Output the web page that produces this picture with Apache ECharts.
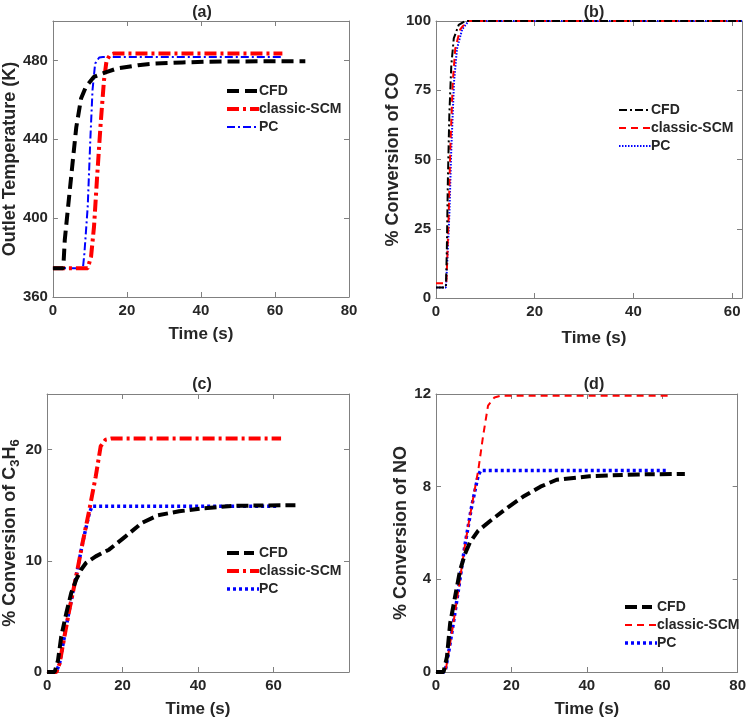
<!DOCTYPE html>
<html>
<head>
    <meta charset="UTF-8">
    <title>Outlet temperature and conversions</title>
    <script src="https://cdn.jsdelivr.net/npm/echarts@6/dist/echarts.min.js"></script>
</head>
<body style="margin:0">
    <div id="main" style="width: 749px; height: 721px;"></div>
    <script>
        // ---- data ----
        // (a) outlet temperature (K)
        var aCfdT = [0, 2.8, 3.2, 4.1, 5.2, 6.3, 7.6, 8.9, 11.1, 14.6, 17.3, 23, 27.6, 35, 40.8, 50, 68.2];
        var aCfdY = [374.6, 374.6, 388.9, 405.8, 426, 446, 460.7, 466.6, 471.7, 474.2, 475.9, 477.6, 478.4, 479, 479.3, 479.5, 479.6];
        var aScmT = [0, 9.4, 10.3, 11.1, 12.0, 12.9, 13.8, 14.5, 15.5, 16.5, 62];
        var aScmY = [374.6, 374.6, 380.4, 395.6, 422.7, 448, 470, 480, 483, 483.5, 483.5];
        var aPcT = [0, 8.1, 8.5, 9.4, 10.1, 10.7, 11.4, 12.5, 13.5, 62];
        var aPcY = [374.6, 374.6, 382, 405.8, 439.6, 465, 478.4, 481.5, 481.7, 481.7];

        // (b) % conversion of CO
        var bCfdT = [0, 2.0, 2.1, 2.2, 2.4, 2.7, 3.1, 3.6, 4.6, 5.9, 62];
        var bCfdY = [3.8, 3.8, 10, 17.9, 42, 66, 84, 93.7, 98.6, 100, 100];
        var bScmT = [0, 2.1, 2.3, 2.57, 2.9, 3.4, 3.9, 4.9, 6.3, 62];
        var bScmY = [5.3, 5.3, 15, 30, 54, 78, 90, 97, 100, 100];
        var bPcT = [0, 2.0, 2.2, 2.7, 3.1, 3.65, 4.25, 5.3, 6.6, 62];
        var bPcY = [3.8, 3.8, 10, 30, 54, 78, 90, 97, 100, 100];

        // (c) % conversion of C3H6
        var cCfdT = [0, 2.0, 2.9, 3.75, 5.1, 6.4, 7.7, 9.0, 10.3, 12.9, 16.4, 20.8, 25.1, 29.4, 35, 40.8, 49.5, 66];
        var cCfdY = [0, 0, 1.05, 3.2, 5.3, 7.1, 8.3, 9.2, 9.8, 10.4, 11.0, 12.2, 13.4, 14.1, 14.45, 14.7, 14.95, 15.0];
        var cScmT = [0, 2.5, 3.3, 4.6, 5.9, 7.7, 9.4, 11.2, 12.9, 14.2, 15.5, 17, 62];
        var cScmY = [0, 0, 0.75, 3.2, 5.6, 8.6, 11.6, 14.6, 17.6, 20.3, 20.9, 21.0, 21.0];
        var cPcT = [0, 2.4, 3.3, 4.6, 5.9, 7.7, 9.4, 11.2, 11.9, 12.3, 61];
        var cPcY = [0, 0, 0.75, 3.2, 5.6, 8.6, 11.6, 14.3, 14.9, 14.9, 14.9];

        // (d) % conversion of NO
        var dCfdT = [0, 2.0, 2.9, 3.75, 5.05, 6.4, 7.7, 9.0, 11.2, 14.6, 19.0, 23.4, 27.7, 32, 40.7, 53.8, 66];
        var dCfdY = [0, 0, 0.65, 2.1, 3.24, 4.4, 5.1, 5.6, 6.1, 6.55, 7.1, 7.6, 8.0, 8.3, 8.45, 8.53, 8.55];
        var dScmT = [0, 2.5, 3.3, 4.6, 5.9, 7.7, 9.4, 11.2, 12.5, 13.8, 15.5, 17, 62];
        var dScmY = [0, 0, 0.8, 2.1, 3.5, 5.5, 7.1, 8.7, 10.2, 11.5, 11.85, 11.92, 11.92];
        var dPcT = [0, 2.4, 3.3, 4.6, 5.9, 7.7, 9.4, 11.2, 11.9, 12.4, 61];
        var dPcY = [0, 0, 0.8, 2.1, 3.5, 5.5, 7.1, 8.5, 8.7, 8.7, 8.7];

        var seriesNames = ['CFD', 'classic-SCM', 'PC'];
        var panelTitles = ['(a)', '(b)', '(c)', '(d)'];

        var myChart = echarts.init(document.getElementById('main'));

        var font = '"Liberation Sans", Arial, sans-serif';
        var boxColor = '#808080';
        var textColor = '#262626';

        function pairs(xs, ys) {
            return xs.map(function (x, i) { return [x, ys[i]]; });
        }

        // 网格位置
        var grids = [
            { left: 45, top: 21, width: 304, height: 276 },
            { left: 436, top: 21, width: 306, height: 277 },
            { left: 44, top: 394, width: 305, height: 278 },
            { left: 436, top: 394, width: 306, height: 278 }
        ];

        var xRanges = [[0, 80, true], [0, 62, false], [0, 80, false], [0, 80, true]];
        var yRanges = [[360, 500, 40, false], [0, 100, 25, true], [0, 25, 10, false], [0, 12, 4, true]];
        var yNames = ['Outlet Temperature (K)', '% Conversion of CO', '% Conversion of C{sub|3}H{sub|6}', '% Conversion of NO'];
        var yGaps = [26, 27, 24, 24];

        var xAxis = [], yAxis = [];
        grids.forEach(function (g, i) {
            xAxis.push({
                type: 'value', gridIndex: i, min: xRanges[i][0], max: xRanges[i][1], interval: 20,
                name: i === 1 ? '' : 'Time (s)', nameLocation: 'middle', nameGap: 29,
                nameTextStyle: { fontFamily: font, fontWeight: 'bold', fontSize: 17, color: textColor },
                axisLine: { onZero: false, lineStyle: { color: boxColor, width: 1 } },
                axisTick: { inside: true, length: 5, lineStyle: { color: boxColor } },
                axisLabel: { showMaxLabel: xRanges[i][2], fontFamily: font, fontWeight: 'bold', fontSize: 15, color: textColor, margin: 6 },
                splitLine: { show: false }
            });
            xAxis.push({
                type: 'value', gridIndex: i, position: 'top', min: xRanges[i][0], max: xRanges[i][1], interval: 20,
                axisLine: { onZero: false, lineStyle: { color: boxColor, width: 1 } },
                axisTick: { inside: true, length: 5, lineStyle: { color: boxColor } },
                axisLabel: { show: false }, splitLine: { show: false }
            });
            yAxis.push({
                type: 'value', gridIndex: i, min: yRanges[i][0], max: yRanges[i][1], interval: yRanges[i][2],
                name: yNames[i], nameLocation: 'middle', nameGap: yGaps[i],
                nameTextStyle: {
                    fontFamily: font, fontWeight: 'bold', fontSize: 18, color: textColor,
                    rich: { sub: { fontFamily: font, fontWeight: 'bold', fontSize: 13, color: textColor, verticalAlign: 'bottom', padding: [10, 0, 0, 0] } }
                },
                axisLine: { onZero: false, lineStyle: { color: boxColor, width: 1 } },
                axisTick: { inside: true, length: 5, lineStyle: { color: boxColor } },
                axisLabel: { showMaxLabel: yRanges[i][3], fontFamily: font, fontWeight: 'bold', fontSize: 15, color: textColor, margin: 5 },
                splitLine: { show: false }
            });
            yAxis.push({
                type: 'value', gridIndex: i, position: 'right', min: yRanges[i][0], max: yRanges[i][1], interval: yRanges[i][2],
                axisLine: { onZero: false, lineStyle: { color: boxColor, width: 1 } },
                axisTick: { inside: true, length: 5, lineStyle: { color: boxColor } },
                axisLabel: { show: false }, splitLine: { show: false }
            });
        });

        // 线型
        var dash = [12, 6];
        var dashDot = [12, 4, 3, 4];
        var dotThick = [3, 3];

        var panelData = [
            [pairs(aCfdT, aCfdY), pairs(aScmT, aScmY), pairs(aPcT, aPcY)],
            [pairs(bCfdT, bCfdY), pairs(bScmT, bScmY), pairs(bPcT, bPcY)],
            [pairs(cCfdT, cCfdY), pairs(cScmT, cScmY), pairs(cPcT, cPcY)],
            [pairs(dCfdT, dCfdY), pairs(dScmT, dScmY), pairs(dPcT, dPcY)]
        ];
        var styles = [
            [{ c: '#000', w: 4, t: dash }, { c: '#ff0000', w: 4, t: dashDot }, { c: '#0000ff', w: 2, t: [8, 3, 2, 3] }],
            [{ c: '#000', w: 2, t: [8, 3, 2, 3] }, { c: '#ff0000', w: 2, t: [7, 5] }, { c: '#0000ff', w: 2, t: [1.5, 1.5] }],
            [{ c: '#000', w: 4, t: [12, 5, 10, 5] }, { c: '#ff0000', w: 4, t: dashDot }, { c: '#0000ff', w: 3.5, t: dotThick }],
            [{ c: '#000', w: 4, t: [12, 5, 10, 5] }, { c: '#ff0000', w: 2, t: [7, 5] }, { c: '#0000ff', w: 3.5, t: dotThick }]
        ];

        var series = [];
        panelData.forEach(function (lines, p) {
            lines.forEach(function (d, k) {
                var st = styles[p][k];
                series.push({
                    type: 'line', name: seriesNames[k] + '|' + p,
                    xAxisIndex: p * 2, yAxisIndex: p * 2,
                    symbol: 'none', smooth: false, z: 3 - k,
                    lineStyle: { color: st.c, width: st.w, type: st.t, cap: 'butt' },
                    itemStyle: { color: st.c },
                    data: d
                });
            });
        });

        var legendPos = [
            { left: 220, top: 79 },
            { left: 613, top: 98 },
            { left: 220, top: 541 },
            { left: 618, top: 595 }
        ];
        var legends = legendPos.map(function (pos, p) {
            return {
                left: pos.left, top: pos.top, orient: 'vertical',
                itemWidth: 32, itemHeight: 14, itemGap: 4,
                data: seriesNames.map(function (n, k) {
                    var st = styles[p][k];
                    return {
                        name: n + '|' + p,
                        itemStyle: { opacity: 0 },
                        lineStyle: { width: st.w, type: st.t, color: st.c, cap: 'butt' }
                    };
                }),
                formatter: function (n) { return n.split('|')[0]; },
                textStyle: { fontFamily: font, fontWeight: 'bold', fontSize: 14, color: textColor, padding: [0, 0, 0, -5] },
                selectedMode: false
            };
        });

        var titleCenters = [[197, 0], [589, 0], [197, 372], [589, 372]];
        var titles = panelTitles.map(function (t, i) {
            return {
                text: t, left: titleCenters[i][0], top: titleCenters[i][1], textAlign: 'center',
                textStyle: { fontFamily: font, fontWeight: 'bold', fontSize: 16, color: textColor }
            };
        });
        // (b) 下方的横轴标题
        titles.push({
            text: 'Time (s)', left: 589, top: 325, textAlign: 'center',
            textStyle: { fontFamily: font, fontWeight: 'bold', fontSize: 17, color: textColor }
        });

        var option = {
            backgroundColor: '#fff',
            animation: false,
            title: titles,
            grid: grids,
            xAxis: xAxis,
            yAxis: yAxis,
            legend: legends,
            series: series
        };
        myChart.setOption(option);
    </script>
</body>
</html>
